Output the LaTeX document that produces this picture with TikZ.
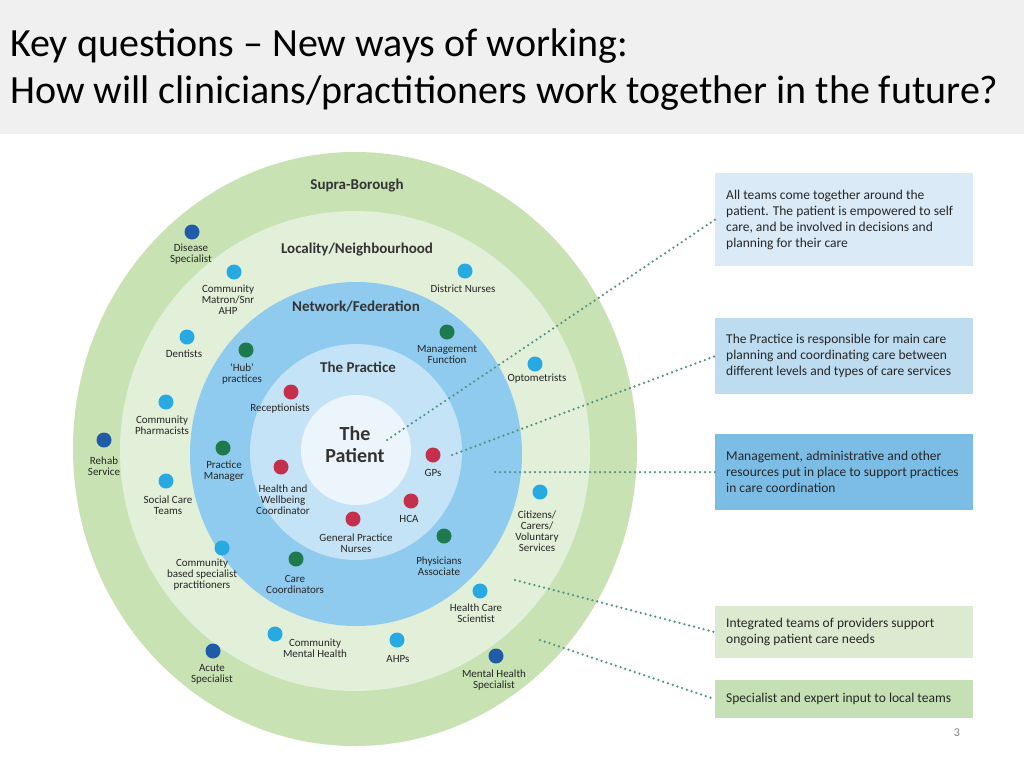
\documentclass[tikz,border=0pt]{standalone}
\usepackage{fontspec}
\setmainfont{Carlito}
\begin{document}
\begin{tikzpicture}[x=1pt,y=-1pt,
  dot/.style={circle,minimum size=15pt,inner sep=0pt},
  db/.style={dot,fill=dkblue}, lb/.style={dot,fill=ltblue},
  dg/.style={dot,fill=dkgreen}, rd/.style={dot,fill=redc},
  lab/.style={font=\fontsize{11}{11}\selectfont,align=center,inner sep=0pt,text=black!85},
  ring/.style={font=\fontsize{15}{15}\selectfont\bfseries,text=black!80},
  infobox/.style={draw=none,minimum width=258pt,text width=236pt,align=flush left,anchor=north west,font=\fontsize{13.5}{16}\selectfont,text=black!85,inner xsep=11pt},
  conn/.style={draw=teal!70!gray,line width=2.5pt,dash pattern=on 0pt off 5pt,line cap=round}]
\definecolor{dkblue}{HTML}{1F5BA6}\definecolor{ltblue}{HTML}{27A9E1}
\definecolor{dkgreen}{HTML}{1E7A4C}\definecolor{redc}{HTML}{C42F4C}
\definecolor{teal}{HTML}{3E9A86}
\useasboundingbox (0,0) rectangle (1024,768);
\fill[white] (0,0) rectangle (1024,768);
\fill[black!6] (0,0) rectangle (1024,134);
\node[anchor=west,font=\fontsize{40}{40}\selectfont,inner sep=0pt] (t1) at (10,46) {Key questions -- New ways of working:};
\node[anchor=west,font=\fontsize{40}{40}\selectfont,inner sep=0pt] (t2) at (10,93) {How will clinicians/practitioners work together in the future?};
% rings
\fill[fill={rgb,255:red,200;green,226;blue,180}] (355,449) ellipse (282 and 297);
\fill[fill={rgb,255:red,226;green,239;blue,217}] (355,451) ellipse (235 and 240);
\fill[fill={rgb,255:red,142;green,203;blue,238}] (356,454) ellipse (166 and 172);
\fill[fill={rgb,255:red,196;green,227;blue,246}] (356,452) ellipse (106 and 108);
\fill[fill={rgb,255:red,236;green,245;blue,251}] (356,450) circle (55);
\node[ring] (r1) at (357,186) {Supra-Borough};
\node[ring] (r2) at (357,250) {Locality/Neighbourhood};
\node[ring] (r3) at (356,307) {Network/Federation};
\node[ring] (r4) at (358,367) {The Practice};
\node[font=\fontsize{20}{20}\selectfont\bfseries,align=center,text=black!80] (pat) at (355,445) {The\\[2pt]Patient};
% dots
\node[db] (d1) at (192,232) {}; \node[lab] at (191,254) {Disease\\Specialist};
\node[lb] (d2) at (234,272) {}; \node[lab] at (228,300) {Community\\Matron/Snr\\AHP};
\node[lb] (d3) at (187,337) {}; \node[lab] at (184,354) {Dentists};
\node[dg] (d4) at (246,350) {}; \node[lab] at (242,374) {`Hub'\\practices};
\node[lb] (d5) at (166,402) {}; \node[lab] at (162,425) {Community\\Pharmacists};
\node[db] (d6) at (104,440) {}; \node[lab] at (104,466) {Rehab\\Service};
\node[dg] (d7) at (223,448) {}; \node[lab] at (224,471) {Practice\\Manager};
\node[lb] (d8) at (166,481) {}; \node[lab] at (168,505) {Social Care\\Teams};
\node[lb] (d9) at (222,548) {}; \node[lab] at (202,575) {Community\\based specialist\\practitioners};
\node[db] (d10) at (213,651) {}; \node[lab] at (212,674) {Acute\\Specialist};
\node[lb] (d11) at (275,634) {}; \node[lab] at (315,648) {Community\\Mental Health};
\node[lb] (d12) at (397,640) {}; \node[lab] at (398,659) {AHPs};
\node[db] (d13) at (496,656) {}; \node[lab] at (494,680) {Mental Health\\Specialist};
\node[lb] (d14) at (480,591) {}; \node[lab] at (476,613) {Health Care\\Scientist};
\node[lb] (d15) at (540,492) {}; \node[lab] at (537,531) {Citizens/\\Carers/\\Voluntary\\Services};
\node[lb] (d16) at (535,364) {}; \node[lab] at (537,379) {Optometrists};
\node[lb] (d17) at (465,271) {}; \node[lab] at (463,289) {District Nurses};
\node[dg] (d18) at (447,332) {}; \node[lab] at (447,355) {Management\\Function};
\node[rd] (d19) at (291,392) {}; \node[lab] at (280,409) {Receptionists};
\node[rd] (d20) at (433,455) {}; \node[lab] at (433,473) {GPs};
\node[rd] (d21) at (281,467) {}; \node[lab] at (283,500) {Health and\\Wellbeing\\Coordinator};
\node[rd] (d22) at (411,501) {}; \node[lab] at (409,519) {HCA};
\node[rd] (d23) at (353,519) {}; \node[lab] at (356,543) {General Practice\\Nurses};
\node[dg] (d24) at (444,536) {}; \node[lab] at (439,566) {Physicians\\Associate};
\node[dg] (d25) at (296,559) {}; \node[lab] at (295,584) {Care\\Coordinators};
% boxes
\node[infobox,fill={rgb,255:red,218;green,234;blue,246},minimum height=93pt] (b1) at (715,173) {All teams come together around the patient. The patient is empowered to self care, and be involved in decisions and planning for their care};
\node[infobox,fill={rgb,255:red,189;green,220;blue,240},minimum height=76pt] (b2) at (715,318) {The Practice is responsible for main care planning and coordinating care between different levels and types of care services};
\node[infobox,fill={rgb,255:red,124;green,189;blue,230},minimum height=76pt] (b3) at (715,434) {Management, administrative and other resources put in place to support practices in care coordination};
\node[infobox,fill={rgb,255:red,220;green,235;blue,208},minimum height=52pt] (b4) at (715,606) {Integrated teams of providers support ongoing patient care needs};
\node[infobox,fill={rgb,255:red,197;green,224;blue,180},minimum height=38pt] (b5) at (715,680) {Specialist and expert input to local teams};
\coordinate (c1) at (387,440); \coordinate (c2) at (452,455);
\coordinate (c3) at (495,472); \coordinate (c4) at (515,580); \coordinate (c5) at (540,640);
\draw[conn] (c1) -- (b1.west);
\draw[conn] (c2) -- (b2.west);
\draw[conn] (c3) -- (b3.west);
\draw[conn] (c4) -- (b4.west);
\draw[conn] (c5) -- (b5.west);
\node[text=black!50,font=\fontsize{12}{12}\selectfont] (pn) at (957,733) {3};
\end{tikzpicture}
\end{document}
